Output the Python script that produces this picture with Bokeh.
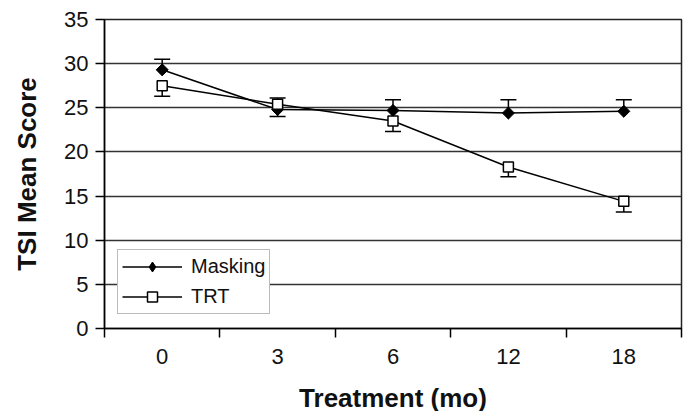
import math
from bokeh.plotting import figure
from bokeh.models import (ColumnDataSource, FixedTicker, Range1d, Whisker, TeeHead,
                          Legend, LegendItem)
from bokeh.embed import file_html
from bokeh.resources import INLINE

# ---- data ----
categories = ["0", "3", "6", "12", "18"]
masking = [29.3, 24.8, 24.7, 24.4, 24.6]
masking_err = [1.2, 1.3, 1.2, 1.5, 1.3]
trt = [27.5, 25.4, 23.5, 18.3, 14.4]
trt_err = [1.2, 1.4, 1.2, 1.1, 1.2]
y_ticks = [0, 5, 10, 15, 20, 25, 30, 35]

FONT = "Liberation Sans"

xs = [i + 0.5 for i in range(len(categories))]
src_m = ColumnDataSource(dict(x=xs, y=masking,
                              up=[v + e for v, e in zip(masking, masking_err)]))
src_t = ColumnDataSource(dict(x=xs, y=trt,
                              lo=[v - e for v, e in zip(trt, trt_err)]))

p = figure(frame_width=577, frame_height=309, output_backend="svg",
           toolbar_location=None,
           x_range=Range1d(0, len(categories)), y_range=Range1d(0, 35),
           min_border_left=104, min_border_right=3, min_border_top=19,
           min_border_bottom=75)

p.background_fill_color = "white"
p.border_fill_color = "white"
p.outline_line_color = "#222222"
p.outline_line_width = 1.5

# grid
p.xgrid.visible = False
p.ygrid.ticker = FixedTicker(ticks=y_ticks)
p.ygrid.grid_line_color = "#333333"
p.ygrid.grid_line_width = 1.4

# x axis
xt = FixedTicker(ticks=xs, minor_ticks=list(range(len(categories) + 1)))
p.xaxis.ticker = xt
p.xaxis.major_label_overrides = {x: c for x, c in zip(xs, categories)}
p.xaxis.major_tick_out = 0
p.xaxis.major_tick_in = 0
p.xaxis.minor_tick_out = 9
p.xaxis.minor_tick_in = 0
p.xaxis.minor_tick_line_color = "black"
p.xaxis.minor_tick_line_width = 1.5
p.xaxis.major_label_standoff = 11
p.xaxis.axis_label = "Treatment (mo)"
p.xaxis.axis_label_standoff = 16

# y axis
p.yaxis.ticker = FixedTicker(ticks=y_ticks)
p.yaxis.major_tick_out = 9
p.yaxis.major_tick_in = 0
p.yaxis.minor_tick_out = 0
p.yaxis.minor_tick_in = 0
p.yaxis.major_label_standoff = 7
p.yaxis.axis_label = "TSI Mean Score"
p.yaxis.axis_label_standoff = 19

for ax in (p.xaxis, p.yaxis):
    ax.axis_line_color = "black"
    ax.axis_line_width = 1.5
    ax.major_tick_line_color = "black"
    ax.major_tick_line_width = 1.5
    ax.major_label_text_font = FONT
    ax.major_label_text_font_size = "22px"
    ax.major_label_text_color = "#111111"
    ax.axis_label_text_font = FONT
    ax.axis_label_text_font_size = "26px"
    ax.axis_label_text_font_style = "bold"
    ax.axis_label_text_color = "#111111"

# error bars
w_m = Whisker(source=src_m, base="x", upper="up", lower="y", dimension="height",
              line_color="black", line_width=1.5, level="underlay",
              upper_head=TeeHead(size=16, line_color="black", line_width=1.5),
              lower_head=None)
w_t = Whisker(source=src_t, base="x", upper="y", lower="lo", dimension="height",
              line_color="black", line_width=1.5, level="underlay",
              lower_head=TeeHead(size=16, line_color="black", line_width=1.5),
              upper_head=None)
p.add_layout(w_m)
p.add_layout(w_t)

# lines and markers
lm = p.line("x", "y", source=src_m, line_color="black", line_width=1.5)
# diamond drawn beneath the rotated square (used for the legend glyph,
# since legend glyphs ignore the marker angle)
dm = p.scatter("x", "y", source=src_m, marker="diamond", size=11,
               fill_color="black", line_color="black", line_width=1)
sm = p.scatter("x", "y", source=src_m, marker="square", size=8.5, angle=math.pi / 4,
               fill_color="black", line_color="black", line_width=1)
lt = p.line("x", "y", source=src_t, line_color="black", line_width=1.5)
st = p.scatter("x", "y", source=src_t, marker="square", size=10,
               fill_color="white", line_color="black", line_width=1.5)

legend = Legend(items=[LegendItem(label="Masking", renderers=[lm, dm]),
                       LegendItem(label="TRT", renderers=[lt, st])],
                location=(13, 14))
legend.label_text_font = FONT
legend.label_text_font_size = "20px"
legend.label_text_color = "#111111"
legend.glyph_width = 60
legend.glyph_height = 25
legend.label_height = 20
legend.label_standoff = 9
legend.spacing = 5
legend.padding = 4
legend.margin = 0
legend.border_line_color = "#777777"
legend.border_line_width = 1.5
legend.background_fill_color = "white"
legend.background_fill_alpha = 1
p.add_layout(legend)

open("out.html", "w").write(file_html(p, INLINE))
